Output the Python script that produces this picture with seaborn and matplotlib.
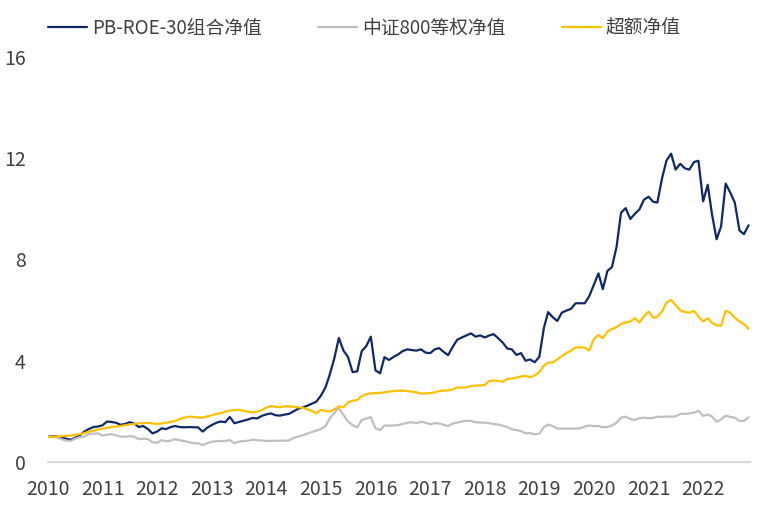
"""
plot.py
-------
PB-ROE-30 portfolio NAV vs CSI 800 equal-weight NAV and excess NAV,
monthly, 2010-01 .. 2022-11.
"""

import numpy as np
import pandas as pd
import matplotlib
matplotlib.use("Agg")
import matplotlib.pyplot as plt
import seaborn as sns

# ── Data (monthly) ────────────────────────────────────────────────────────────
START = "2010-01-01"
N_MONTHS = 155

SERIES_NAMES = ["PB-ROE-30组合净值", "中证800等权净值", "超额净值"]
SERIES_COLORS = ["#0F2868", "#BFBFBF", "#FFC000"]

pbroe_nav = [
    # 2010
    1.00, 1.02, 1.00, 0.97, 0.92, 0.88, 0.95, 1.05, 1.20, 1.30, 1.38, 1.40,
    # 2011
    1.45, 1.60, 1.58, 1.55, 1.47, 1.50, 1.57, 1.52, 1.38, 1.42, 1.30, 1.13,
    # 2012
    1.20, 1.33, 1.30, 1.38, 1.42, 1.38, 1.37, 1.38, 1.37, 1.37, 1.20, 1.35,
    # 2013
    1.46, 1.55, 1.60, 1.57, 1.78, 1.53, 1.58, 1.63, 1.68, 1.74, 1.72, 1.82,
    # 2014
    1.88, 1.92, 1.85, 1.83, 1.87, 1.90, 2.00, 2.10, 2.15, 2.22, 2.30, 2.38,
    # 2015
    2.62, 2.95, 3.45, 4.10, 4.90, 4.40, 4.15, 3.55, 3.58, 4.38, 4.58, 4.95,
    # 2016
    3.62, 3.50, 4.14, 4.03, 4.15, 4.25, 4.38, 4.45, 4.42, 4.40, 4.45, 4.32,
    # 2017
    4.30, 4.45, 4.50, 4.35, 4.22, 4.55, 4.83, 4.92, 5.00, 5.08, 4.95, 5.00,
    # 2018
    4.92, 5.00, 5.05, 4.89, 4.72, 4.48, 4.45, 4.23, 4.30, 4.00, 4.05, 3.94,
    # 2019
    4.15, 5.30, 5.92, 5.72, 5.57, 5.90, 5.98, 6.05, 6.27, 6.27, 6.27, 6.55,
    # 2020
    7.00, 7.45, 6.83, 7.55, 7.70, 8.50, 9.85, 10.03, 9.60, 9.80, 9.98, 10.36,
    # 2021
    10.48, 10.28, 10.25, 11.20, 11.91, 12.18, 11.55, 11.78, 11.60, 11.55, 11.85, 11.90,
    # 2022
    10.30, 10.95, 9.80, 8.80, 9.30, 11.00, 10.65, 10.25, 9.15, 9.00, 9.35,
]

csi800_nav = [
    1.00, 1.00, 0.97, 0.90, 0.85, 0.83, 0.92, 0.98, 1.00, 1.10, 1.12, 1.13,
    1.04, 1.08, 1.10, 1.05, 1.00, 1.00, 1.02, 1.00, 0.90, 0.92, 0.90, 0.78,
    0.76, 0.86, 0.82, 0.84, 0.90, 0.86, 0.83, 0.78, 0.74, 0.74, 0.67, 0.74,
    0.80, 0.82, 0.83, 0.83, 0.87, 0.74, 0.80, 0.83, 0.84, 0.88, 0.86, 0.85,
    0.83, 0.83, 0.84, 0.84, 0.84, 0.85, 0.95, 1.00, 1.05, 1.12, 1.18, 1.24,
    1.30, 1.42, 1.72, 1.95, 2.12, 1.86, 1.60, 1.45, 1.37, 1.66, 1.72, 1.77,
    1.33, 1.26, 1.44, 1.44, 1.44, 1.46, 1.50, 1.55, 1.57, 1.53, 1.59, 1.55,
    1.49, 1.53, 1.52, 1.47, 1.42, 1.52, 1.56, 1.60, 1.63, 1.62, 1.57, 1.56,
    1.55, 1.53, 1.50, 1.48, 1.43, 1.38, 1.29, 1.26, 1.22, 1.13, 1.14, 1.09,
    1.12, 1.38, 1.48, 1.42, 1.32, 1.32, 1.32, 1.32, 1.32, 1.33, 1.40, 1.44,
    1.42, 1.42, 1.37, 1.38, 1.44, 1.55, 1.75, 1.79, 1.70, 1.66, 1.73, 1.75,
    1.73, 1.74, 1.79, 1.78, 1.80, 1.79, 1.80, 1.90, 1.90, 1.92, 1.95, 2.02,
    1.82, 1.87, 1.80, 1.59, 1.68, 1.83, 1.78, 1.75, 1.62, 1.62, 1.77,
]

excess_nav = [
    1.00, 0.99, 1.00, 1.02, 1.03, 1.04, 1.07, 1.10, 1.14, 1.20, 1.24, 1.28,
    1.32, 1.35, 1.38, 1.40, 1.42, 1.45, 1.48, 1.50, 1.53, 1.53, 1.55, 1.52,
    1.50, 1.52, 1.55, 1.58, 1.62, 1.70, 1.75, 1.79, 1.78, 1.76, 1.75, 1.80,
    1.84, 1.90, 1.93, 1.98, 2.03, 2.05, 2.06, 2.03, 1.98, 1.96, 1.99, 2.05,
    2.15, 2.21, 2.18, 2.16, 2.20, 2.20, 2.18, 2.16, 2.14, 2.08, 2.02, 1.92,
    2.06, 2.02, 1.99, 2.08, 2.20, 2.16, 2.35, 2.42, 2.45, 2.60, 2.68, 2.71,
    2.72, 2.73, 2.75, 2.78, 2.80, 2.82, 2.82, 2.80, 2.78, 2.75, 2.70, 2.71,
    2.72, 2.75, 2.80, 2.82, 2.83, 2.86, 2.95, 2.93, 2.95, 3.00, 3.02, 3.02,
    3.04, 3.20, 3.22, 3.20, 3.17, 3.28, 3.30, 3.33, 3.38, 3.40, 3.35, 3.42,
    3.55, 3.80, 3.92, 3.93, 4.05, 4.19, 4.30, 4.40, 4.52, 4.53, 4.52, 4.40,
    4.85, 5.02, 4.89, 5.15, 5.25, 5.33, 5.45, 5.51, 5.55, 5.68, 5.51, 5.75,
    5.94, 5.70, 5.73, 5.95, 6.30, 6.40, 6.20, 6.00, 5.92, 5.90, 5.97, 5.75,
    5.55, 5.68, 5.50, 5.40, 5.38, 5.97, 5.90, 5.70, 5.55, 5.45, 5.26,
]

Y_TICKS = [0, 4, 8, 12, 16]
YEARS = list(range(2010, 2023))


def main():
    dates = pd.date_range(START, periods=N_MONTHS, freq="MS")
    df = pd.DataFrame({
        "date": np.tile(dates, 3),
        "nav": pbroe_nav + csi800_nav + excess_nav,
        "series": np.repeat(SERIES_NAMES, N_MONTHS),
    })

    sns.set_style("white")
    plt.rcParams["font.family"] = ["Noto Sans CJK SC", "DejaVu Sans"]

    fig = plt.figure(figsize=(7.59, 5.07), dpi=100)
    ax = fig.add_axes([0.0632, 0.0888, 0.925, 0.7988])

    sns.lineplot(
        data=df, x="date", y="nav", hue="series",
        hue_order=SERIES_NAMES, palette=SERIES_COLORS,
        linewidth=1.6, ax=ax,
    )

    # ── Axes styling ──────────────────────────────────────────────────────────
    ax.set_ylim(0, 16)
    ax.set_yticks(Y_TICKS)
    ax.set_xlim(dates[0], dates[-1] + pd.Timedelta(days=10))
    ax.set_xticks([pd.Timestamp(f"{y}-01-01") for y in YEARS])
    ax.set_xticklabels([str(y) for y in YEARS])
    ax.set_xlabel("")
    ax.set_ylabel("")

    for side in ["top", "right", "left"]:
        ax.spines[side].set_visible(False)
    ax.spines["bottom"].set_color("#D9D9D9")
    ax.spines["bottom"].set_linewidth(1.5)
    ax.tick_params(axis="both", length=0, labelsize=14, colors="#404040")
    ax.tick_params(axis="x", pad=12)
    ax.tick_params(axis="y", pad=16)

    # ── Legend ────────────────────────────────────────────────────────────────
    leg = ax.legend(
        loc="lower left", bbox_to_anchor=(0.0, 1.045), ncol=3,
        frameon=False, fontsize=13.5, handlelength=2.08, handletextpad=0.27,
        columnspacing=3.0, borderaxespad=0, borderpad=0,
    )
    for text in leg.get_texts():
        text.set_color("#404040")

    fig.savefig("out.png", dpi=100)


if __name__ == "__main__":
    main()
